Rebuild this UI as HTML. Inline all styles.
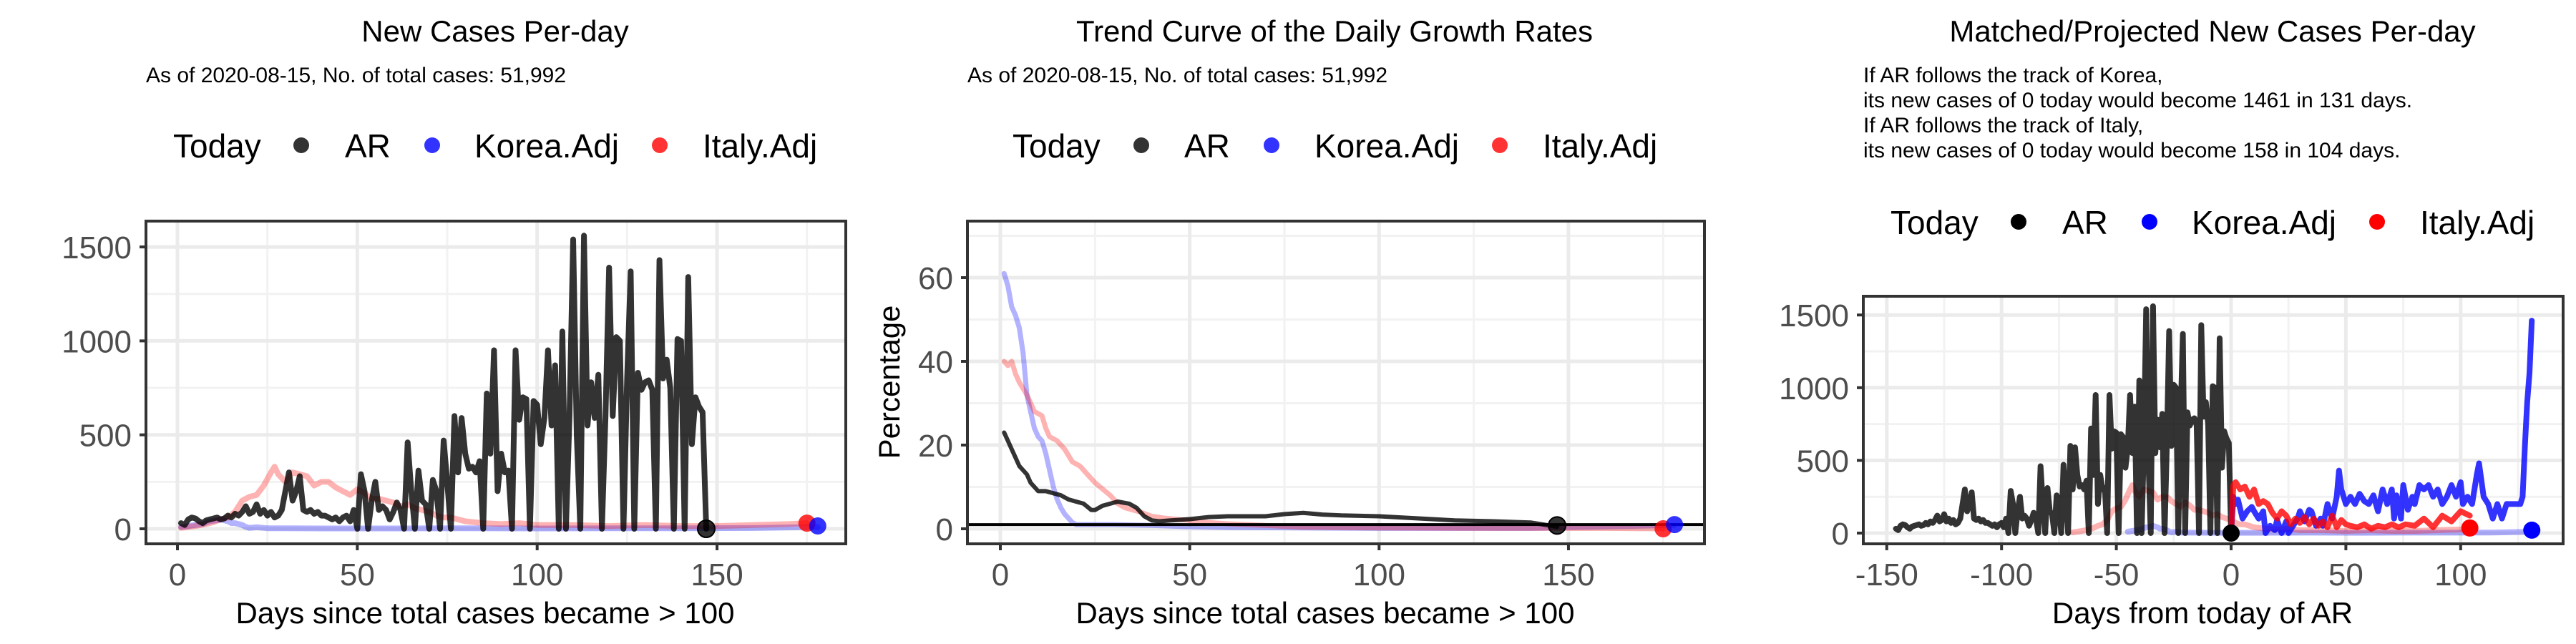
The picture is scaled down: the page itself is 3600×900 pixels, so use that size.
<!DOCTYPE html>
<html><head><meta charset="utf-8"><style>
html,body{margin:0;padding:0;background:#fff;}
svg{display:block;font-family:"Liberation Sans",Arial,sans-serif;}
</style></head><body>
<svg id="chart" width="3600" height="900" viewBox="0 0 3600 900" xmlns="http://www.w3.org/2000/svg"></svg>
<script>
// ---------- DATA ----------
const arNew = [30,20,50,60,55,40,30,45,50,55,60,50,55,70,60,80,70,90,120,80,90,130,80,100,70,90,60,70,100,200,300,150,200,280,100,90,100,80,90,70,70,60,50,60,40,60,70,40,100,0,290,200,0,150,250,100,120,100,50,90,140,100,0,460,200,0,310,150,130,0,260,200,0,470,250,0,600,300,590,400,320,330,300,360,0,720,400,950,200,400,300,310,0,950,580,700,690,0,680,660,450,590,950,550,870,0,1050,0,600,1540,500,0,1560,550,780,590,820,0,600,1390,600,1020,1000,0,800,1370,0,830,740,780,790,740,0,1430,800,900,750,0,1010,1000,0,1340,450,700,650,620,0];
const koreaDays = [1,3,5,7,9,11,12,13,14,15,16,17,18,19,20,22,25,30,40,60,80,100,120,140,160,178];
const koreaVals = [10,15,20,25,40,45,50,45,40,30,30,25,20,10,5,8,3,3,2,2,3,2,3,3,4,10];
const italyDays = [1,3,5,8,10,12,14,16,18,20,22,24,26,27,28,30,32,34,36,38,40,42,44,46,48,50,52,54,56,58,60,62,64,66,68,70,72,74,76,80,85,90,95,100,110,120,130,140,150,160,170,175];
const italyVals = [5,10,15,25,35,50,60,90,150,170,180,230,300,330,290,250,300,290,280,230,250,250,220,200,180,210,190,160,160,150,140,120,130,110,100,90,70,60,60,40,30,25,30,20,20,15,20,15,15,20,25,30];
const arGrowthDays = [1,2,3,4,5,6,7,8,9,10,12,14,16,18,20,22,24,25,27,29,31,34,36,38,40,42,45,50,55,60,65,70,75,80,85,90,100,110,120,130,140,147];
const arGrowthVals = [23,21,19,17,15,14,13,11,10,9,9,8.5,8,7,6.5,6,4.5,4.5,5.5,6,6.5,6,5,3,2,1.8,2,2.3,2.8,3,3,3,3.5,3.8,3.4,3.2,3,2.5,2,1.8,1.5,0.5];
const koreaGrowthDays = [1,2,3,4,5,6,7,8,9,10,11,12,13,14,15,16,17,18,19,20,22,30,40,50,60,80,100,140,178];
const koreaGrowthVals = [61,58,53,51,48,42,32,28,24,22,21,18,14,10,7,5,3.5,2.5,1.5,1,1,1,0.8,0.5,0.3,0.2,0.1,0.1,0.8];
const italyGrowthDays = [1,2,3,4,5,7,9,11,12,13,15,17,19,21,23,25,27,29,31,33,35,37,40,43,46,50,55,60,70,80,100,130,160,175];
const italyGrowthVals = [40,39,40,37,35,32,28,27,24,22,21,19,16,15,13,11,9.5,8,6,5,4.5,4,3,2.6,2.3,2,1.5,1.2,0.8,0.4,0.2,0.1,0.1,0];
const korProjDays = [0,1,2,3,5,7,9,10,12,14,15,17,19,20,22,24,25,27,29,30,32,34,35,37,39,40,42,44,46,47,48,50,52,54,56,58,60,62,64,66,68,70,71,72,74,75,77,79,80,82,84,86,88,90,92,94,96,98,100,101,103,105,107,108,110,112,114,116,118,120,122,124,126,127,128,129,130,131];
const korProjVals = [0,250,200,230,100,150,180,150,100,150,0,50,20,90,0,80,0,50,100,150,80,160,150,50,100,50,200,100,250,430,300,200,250,200,270,220,200,260,150,300,200,300,100,260,100,330,160,250,200,330,300,330,250,300,200,250,330,250,350,200,250,200,400,480,250,200,100,200,100,200,200,200,200,250,600,900,1100,1461];
const itaProjDays = [0,1,2,4,6,8,10,12,14,16,18,20,22,24,26,28,30,32,34,36,38,40,42,44,46,48,50,52,55,58,61,64,67,70,73,76,80,84,88,92,96,100,104];
const itaProjVals = [0,330,350,300,320,250,300,200,220,200,140,100,150,120,60,100,70,110,60,100,50,80,40,120,40,90,60,50,40,60,30,50,40,60,40,60,50,100,40,120,80,150,120];
const legendItems = ["AR","Korea.Adj","Italy.Adj"];
const xTicks1 = [0,50,100,150];
const yTicks1 = [0,500,1000,1500];
const yTicks2 = [0,20,40,60];
const xTicks3 = [-150,-100,-50,0,50,100];
const todayAR = [147,0], todayKorea1 = [178,15], todayItaly1 = [175,30];
const todayAR2 = [147,0.8], todayKorea2 = [178,1], todayItaly2 = [175,0];
const todayKorea3 = [131,20], todayItaly3 = [104,35], todayAR3 = [0,0];

// ---------- HELPERS ----------
const svg = document.getElementById('chart');
const NS = 'http://www.w3.org/2000/svg';
function mk(tag, attrs, parent) {
  const e = document.createElementNS(NS, tag);
  for (const k in attrs) e.setAttribute(k, attrs[k]);
  (parent || svg).appendChild(e);
  return e;
}
function txt(s, x, y, size, anchor, fill, parent) {
  const t = mk('text', {x: x, y: y, 'font-size': size, 'text-anchor': anchor || 'start', fill: fill || '#000'}, parent);
  t.textContent = s;
  return t;
}

function panel(cfg) {
  const g = mk('g', {});
  
  
  const X = cfg.X, Y = cfg.Y;
  cfg.xMinor.forEach(v => { const l = mk('line', {x1: X(v), x2: X(v), y1: cfg.top, y2: cfg.bottom, stroke: '#f2f2f2', 'stroke-width': 3}, g);   });
  cfg.yMinor.forEach(v => { const l = mk('line', {x1: cfg.left, x2: cfg.right, y1: Y(v), y2: Y(v), stroke: '#f2f2f2', 'stroke-width': 3}, g);   });
  cfg.xTicks.forEach(v => { const l = mk('line', {x1: X(v), x2: X(v), y1: cfg.top, y2: cfg.bottom, stroke: '#ebebeb', 'stroke-width': 5}, g);   });
  cfg.yTicks.forEach(v => { const l = mk('line', {x1: cfg.left, x2: cfg.right, y1: Y(v), y2: Y(v), stroke: '#ebebeb', 'stroke-width': 5}, g);   });
  cfg.series.forEach(s => {
    const pts = s.xs.map((x, i) => X(x).toFixed(1) + ',' + Y(s.ys[i]).toFixed(1)).join(' ');
    const p = mk('polyline', {points: pts, fill: 'none', stroke: s.color, 'stroke-opacity': s.op, 'stroke-width': s.w, 'stroke-linejoin': 'round', 'stroke-linecap': 'round'}, g);
    
    
  });
  if (cfg.hline !== undefined) {
    const l = mk('line', {x1: cfg.left, x2: cfg.right, y1: Y(cfg.hline), y2: Y(cfg.hline), stroke: '#000', 'stroke-width': 4}, g);
    
    
  }
  cfg.dots.forEach(d => {
    const c = mk('circle', {cx: X(d.p[0]), cy: Y(d.p[1]), r: 12, fill: d.color, 'fill-opacity': d.op, stroke: d.stroke || 'none', 'stroke-width': 2}, g);
    
    
  });
  const b = mk('rect', {x: cfg.left, y: cfg.top, width: cfg.right - cfg.left, height: cfg.bottom - cfg.top, fill: 'none', stroke: '#333', 'stroke-width': 4}, g);
  
  
  cfg.xTicks.forEach(v => {
    const l = mk('line', {x1: X(v), x2: X(v), y1: cfg.bottom, y2: cfg.bottom + 9, stroke: '#333', 'stroke-width': 4}, g);
    
    
    const t = txt(String(v), X(v), cfg.bottom + 58, 44, 'middle', '#4d4d4d', g);
    
    
  });
  cfg.yTicks.forEach(v => {
    const l = mk('line', {x1: cfg.left - 9, x2: cfg.left, y1: Y(v), y2: Y(v), stroke: '#333', 'stroke-width': 4}, g);
    
    
    const t = txt(String(v), cfg.left - 20, Y(v) + 16, 44, 'end', '#4d4d4d', g);
    
    
  });
  const xt = txt(cfg.xTitle, (cfg.left + cfg.right) / 2 - 15, 871, 42, 'middle', '#000', g);
  
  
  const tt = txt(cfg.title, cfg.titleX, 58, 42, 'middle', '#000', g);
  
  
  cfg.sub.forEach((s, i) => {
    const st = txt(s, cfg.subX, 115 + i * 35, 30, 'start', '#000', g);
    
    
  });
  const lg = mk('g', {}, g);
  
  
  const ly = cfg.legendY;
  const lt = txt('Today', cfg.legX[0], ly + 17, 46, 'start', '#000', lg);
  
  
  legendItems.forEach((name, i) => {
    const c = mk('circle', {cx: cfg.legX[1 + i * 2], cy: ly, r: 11, fill: cfg.legColors[i], 'fill-opacity': cfg.legOp}, lg);
    
    
    const t = txt(name, cfg.legX[2 + i * 2], ly + 17, 46, 'start', '#000', lg);
    
    
  });
  return g;
}

const idx = arNew.map((v, i) => i + 1);

// Panel 1
const X1 = d => 248 + d * 5.027, Y1 = v => 739 - v * 0.2626;
panel({
  name: 'new-cases-panel', X: X1, Y: Y1, left: 204, right: 1182, top: 309, bottom: 760,
  xTicks: xTicks1, xMinor: [25,75,125,175], yTicks: yTicks1, yMinor: [250,750,1250],
  series: [
    {name: 'korea-line', xs: koreaDays, ys: koreaVals, color: '#0000ff', op: 0.3, w: 8},
    {name: 'italy-line', xs: italyDays, ys: italyVals, color: '#ff0000', op: 0.3, w: 8},
    {name: 'ar-line', xs: idx, ys: arNew, color: '#000', op: 0.8, w: 8}
  ],
  dots: [
    {name: 'today-ar-point', p: todayAR, color: '#000', op: 0.8, stroke: '#000'},
    {name: 'today-italy-point', p: todayItaly1, color: '#ff0000', op: 0.8},
    {name: 'today-korea-point', p: todayKorea1, color: '#0000ff', op: 0.8}
  ],
  xTitle: 'Days since total cases became > 100', title: 'New Cases Per-day', titleX: 692,
  sub: ['As of 2020-08-15, No. of total cases: 51,992'], subX: 204,
  legendY: 203, legX: [242,421,482,604,663,922,982], legColors: ['#000','#0000ff','#ff0000'], legOp: 0.8
});

// Panel 2
const X2 = d => 1398 + d * 5.293, Y2 = v => 739 - v * 5.85;
panel({
  name: 'growth-rate-panel', X: X2, Y: Y2, left: 1352, right: 2382, top: 309, bottom: 760,
  xTicks: xTicks1, xMinor: [25,75,125,175], yTicks: yTicks2, yMinor: [10,30,50,70],
  series: [
    {name: 'korea-growth-line', xs: koreaGrowthDays, ys: koreaGrowthVals, color: '#0000ff', op: 0.3, w: 7},
    {name: 'italy-growth-line', xs: italyGrowthDays, ys: italyGrowthVals, color: '#ff0000', op: 0.3, w: 7},
    {name: 'ar-growth-line', xs: arGrowthDays, ys: arGrowthVals, color: '#000', op: 0.8, w: 6}
  ],
  hline: 1,
  dots: [
    {name: 'today-ar-point', p: todayAR2, color: '#000', op: 0.8, stroke: '#000'},
    {name: 'today-italy-point', p: todayItaly2, color: '#ff0000', op: 0.8},
    {name: 'today-korea-point', p: todayKorea2, color: '#0000ff', op: 0.8}
  ],
  xTitle: 'Days since total cases became > 100', title: 'Trend Curve of the Daily Growth Rates', titleX: 1865,
  sub: ['As of 2020-08-15, No. of total cases: 51,992'], subX: 1352,
  legendY: 203, legX: [1415,1595,1655,1777,1837,2096,2156], legColors: ['#000','#0000ff','#ff0000'], legOp: 0.8
});
const yt2 = txt('Percentage', 0, 0, 42, 'middle', '#000');
yt2.setAttribute('transform', 'translate(1257,534) rotate(-90)');



// Panel 3
const X3 = d => 3118 + d * 3.208, Y3 = v => 745 - v * 0.2032;
panel({
  name: 'projection-panel', X: X3, Y: Y3, left: 2604, right: 3582, top: 414, bottom: 760,
  xTicks: xTicks3, xMinor: [-125,-75,-25,25,75,125], yTicks: yTicks1, yMinor: [250,750,1250],
  series: [
    {name: 'korea-history-line', xs: koreaDays.map(d => d - 46), ys: koreaVals, color: '#0000ff', op: 0.3, w: 8},
    {name: 'italy-history-line', xs: italyDays.map(d => d - 70), ys: italyVals, color: '#ff0000', op: 0.3, w: 8},
    {name: 'ar-line', xs: idx.map(d => d - 147), ys: arNew, color: '#000', op: 0.8, w: 8},
    {name: 'korea-projection-line', xs: korProjDays, ys: korProjVals, color: '#0000ff', op: 0.8, w: 8},
    {name: 'italy-projection-line', xs: itaProjDays, ys: itaProjVals, color: '#ff0000', op: 0.8, w: 8}
  ],
  dots: [
    {name: 'today-ar-point', p: todayAR3, color: '#000', op: 1},
    {name: 'projected-italy-point', p: todayItaly3, color: '#ff0000', op: 1},
    {name: 'projected-korea-point', p: todayKorea3, color: '#0000ff', op: 1}
  ],
  xTitle: 'Days from today of AR', title: 'Matched/Projected New Cases Per-day', titleX: 3092,
  sub: ['If AR follows the track of Korea,', 'its new cases of 0 today would become 1461 in 131 days.', 'If AR follows the track of Italy,', 'its new cases of 0 today would become 158 in 104 days.'], subX: 2604,
  legendY: 310, legX: [2642,2821,2882,3004,3063,3322,3382], legColors: ['#000','#0000ff','#ff0000'], legOp: 1
});
</script>
</body></html>
